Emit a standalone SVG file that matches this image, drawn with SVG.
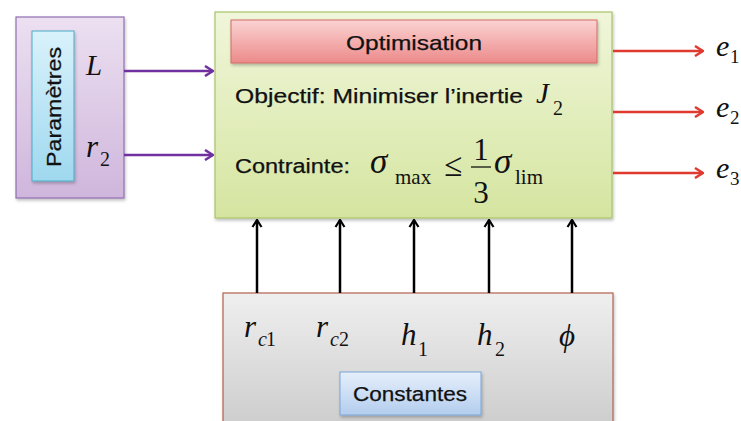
<svg xmlns="http://www.w3.org/2000/svg" width="741" height="421" viewBox="0 0 741 421">
<style>
.sans{font-family:"Liberation Sans","Open Sans",sans-serif;fill:#111;stroke:#111;stroke-width:0.25}
.math{font-family:"Liberation Serif","DejaVu Serif",serif;font-style:italic;fill:#111}
.up{font-family:"Liberation Serif","DejaVu Serif",serif;fill:#111}
.conn{fill:none;stroke-width:2.5}
</style>
<defs>
<linearGradient id="gPurple" x1="0" y1="0" x2="0" y2="1"><stop offset="0" stop-color="#ece0f1"/><stop offset="1" stop-color="#cfb6dc"/></linearGradient>
<linearGradient id="gBlue" x1="0" y1="0" x2="0" y2="1"><stop offset="0" stop-color="#d9f2fb"/><stop offset="1" stop-color="#9fd8ef"/></linearGradient>
<linearGradient id="gGreen" x1="0" y1="0" x2="0" y2="1"><stop offset="0" stop-color="#f0f6da"/><stop offset="1" stop-color="#d5e5a0"/></linearGradient>
<linearGradient id="gRed" x1="0" y1="0" x2="0" y2="1"><stop offset="0" stop-color="#fbd3d3"/><stop offset="1" stop-color="#ec8a8a"/></linearGradient>
<linearGradient id="gGray" x1="0" y1="0" x2="0" y2="1"><stop offset="0" stop-color="#efefef"/><stop offset="1" stop-color="#cbcbcb"/></linearGradient>
<linearGradient id="gCst" x1="0" y1="0" x2="0" y2="1"><stop offset="0" stop-color="#e6effb"/><stop offset="1" stop-color="#b3cdee"/></linearGradient>
<filter id="sh" x="-10%" y="-10%" width="120%" height="130%"><feDropShadow dx="1" dy="2" stdDeviation="1.5" flood-color="#000" flood-opacity="0.25"/></filter>
<marker id="mP" viewBox="0 0 12 12" refX="11" refY="6" markerWidth="12" markerHeight="12" markerUnits="userSpaceOnUse" orient="auto"><path d="M3,1 L11,6 L3,11" fill="none" stroke="#7030a0" stroke-width="2.5"/></marker>
<marker id="mR" viewBox="0 0 12 12" refX="11" refY="6" markerWidth="12" markerHeight="12" markerUnits="userSpaceOnUse" orient="auto"><path d="M3,1 L11,6 L3,11" fill="none" stroke="#e0392f" stroke-width="2.5"/></marker>
<marker id="mK" viewBox="0 0 12 12" refX="11" refY="6" markerWidth="12" markerHeight="12" markerUnits="userSpaceOnUse" orient="auto"><path d="M4,1.5 L11,6 L4,10.5" fill="none" stroke="#000" stroke-width="2.2"/></marker>
</defs>
<rect width="741" height="421" fill="#fff"/>

<g id="parametres">
<rect x="16" y="17" width="108" height="181" fill="url(#gPurple)" stroke="#8f6fb0" stroke-width="1.2" filter="url(#sh)"/>
<rect x="32" y="31" width="42" height="150" fill="url(#gBlue)" stroke="#4bacc6" stroke-width="1" filter="url(#sh)"/>
<text class="sans" x="0" y="0" font-size="21" text-anchor="middle" textLength="120" lengthAdjust="spacingAndGlyphs" transform="translate(61,107) rotate(-90)">Paramètres</text>
<text class="math" x="86" y="75" font-size="29">L</text>
<text class="math" x="86" y="157" font-size="31">r</text>
<text class="up" x="100" y="166" font-size="20">2</text>
</g>

<g id="optimisation">
<rect x="215" y="12" width="397" height="206" fill="url(#gGreen)" stroke="#a9c46a" stroke-width="1.2" filter="url(#sh)"/>
<rect x="231" y="20" width="366" height="43" fill="url(#gRed)" stroke="#d26a67" stroke-width="1" filter="url(#sh)"/>
<text class="sans" x="414" y="50" font-size="21" text-anchor="middle" textLength="136" lengthAdjust="spacingAndGlyphs">Optimisation</text>
<text class="sans" x="235" y="103" font-size="20" textLength="288" lengthAdjust="spacingAndGlyphs">Objectif: Minimiser l’inertie</text>
<text class="math" x="536" y="103" font-size="29">J</text>
<text class="up" x="553" y="115" font-size="20">2</text>
<text class="sans" x="235" y="173" font-size="20" textLength="115" lengthAdjust="spacingAndGlyphs">Contrainte:</text>
<text class="math" x="370" y="173" font-size="35">σ</text>
<text class="up" x="395" y="184" font-size="21">max</text>
<text class="up" x="444" y="176" font-size="33">≤</text>
<text class="up" x="481" y="160" font-size="31" text-anchor="middle">1</text>
<line x1="471" y1="167" x2="491" y2="167" stroke="#111" stroke-width="1.3"/>
<text class="up" x="481" y="203" font-size="31" text-anchor="middle">3</text>
<text class="math" x="494" y="173" font-size="35">σ</text>
<text class="up" x="515" y="184" font-size="21">lim</text>
</g>

<g id="constantes">
<rect x="223" y="293" width="390" height="140" fill="url(#gGray)" stroke="#b5604f" stroke-width="1.2" filter="url(#sh)"/>
<text class="math" x="244" y="337" font-size="31">r</text>
<text class="math" x="258" y="346" font-size="20">c</text><text class="up" x="266" y="346" font-size="20">1</text>
<text class="math" x="316" y="337" font-size="31">r</text>
<text class="math" x="330" y="346" font-size="20">c</text><text class="up" x="339" y="346" font-size="20">2</text>
<text class="math" x="401" y="345" font-size="31">h</text>
<text class="up" x="418" y="356" font-size="20">1</text>
<text class="math" x="477" y="345" font-size="31">h</text>
<text class="up" x="495" y="356" font-size="20">2</text>
<text class="math" x="559" y="346" font-size="31">ϕ</text>
<rect x="340" y="372" width="141" height="43" fill="url(#gCst)" stroke="#7aa6d8" stroke-width="1" filter="url(#sh)"/>
<text class="sans" x="410" y="401" font-size="20" text-anchor="middle" textLength="114" lengthAdjust="spacingAndGlyphs">Constantes</text>
</g>

<g id="outputs">
<text class="math" x="716" y="56" font-size="30">e</text><text class="up" x="730" y="63" font-size="19">1</text>
<text class="math" x="716" y="117" font-size="30">e</text><text class="up" x="730" y="124" font-size="19">2</text>
<text class="math" x="716" y="178" font-size="30">e</text><text class="up" x="730" y="185" font-size="19">3</text>
</g>

<g id="connectors">
<line class="conn" x1="124" y1="71" x2="213" y2="71" stroke="#7030a0" marker-end="url(#mP)"/>
<line class="conn" x1="124" y1="155" x2="213" y2="155" stroke="#7030a0" marker-end="url(#mP)"/>
<line class="conn" x1="613" y1="51" x2="703" y2="51" stroke="#e0392f" marker-end="url(#mR)"/>
<line class="conn" x1="613" y1="112" x2="703" y2="112" stroke="#e0392f" marker-end="url(#mR)"/>
<line class="conn" x1="613" y1="173" x2="703" y2="173" stroke="#e0392f" marker-end="url(#mR)"/>
<line class="conn" x1="257" y1="293" x2="257" y2="220" stroke="#000" marker-end="url(#mK)"/>
<line class="conn" x1="340" y1="293" x2="340" y2="220" stroke="#000" marker-end="url(#mK)"/>
<line class="conn" x1="414" y1="293" x2="414" y2="220" stroke="#000" marker-end="url(#mK)"/>
<line class="conn" x1="489" y1="293" x2="489" y2="220" stroke="#000" marker-end="url(#mK)"/>
<line class="conn" x1="572" y1="293" x2="572" y2="220" stroke="#000" marker-end="url(#mK)"/>
</g>
</svg>
